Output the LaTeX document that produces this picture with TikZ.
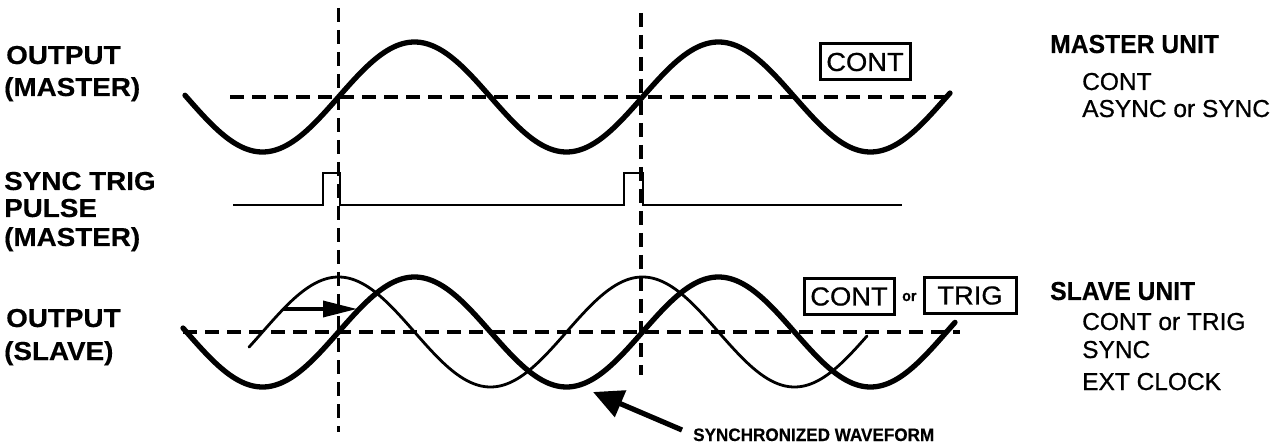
\documentclass[tikz,border=0pt]{standalone}
\usepackage{fontspec}
\setmainfont{Liberation Sans}
\newfontfamily\labfont[FakeStretch=1.07,FakeBold=0.4]{Liberation Sans}
\newfontfamily\titlefont[FakeStretch=0.95,FakeBold=0.4]{Liberation Sans}
\newfontfamily\boxfontfam[FakeStretch=1.05,FakeBold=0.7]{Liberation Sans}
\newfontfamily\subfont[FakeBold=0.7]{Liberation Sans}
\usetikzlibrary{arrows.meta}
\begin{document}
\begin{tikzpicture}[x=1pt,y=-1pt,
  wave/.style={line width=5.3pt, line cap=round},
  thinwave/.style={line width=2.8pt, line cap=round},
  guide/.style={line width=3.5pt, dash pattern=on 14pt off 8pt},
  pulseline/.style={line width=2.8pt},
  lab/.style={anchor=base west, inner sep=0pt, font={\labfont\bfseries\fontsize{26}{30}\selectfont}},
  unittitle/.style={anchor=base west, inner sep=0pt, font={\titlefont\bfseries\fontsize{26}{30}\selectfont}},
  unitsub/.style={anchor=base west, inner sep=0pt, font={\subfont\fontsize{24.5}{28}\selectfont}},
  modebox/.style={draw, line width=3pt, inner sep=0pt, minimum width=90pt, minimum height=36pt, font={\boxfontfam\fontsize{26}{30}\selectfont}},
  orlab/.style={anchor=base west, inner sep=0pt, font={\titlefont\bfseries\fontsize{15}{18}\selectfont}},
  synclab/.style={anchor=base west, inner sep=0pt, font={\titlefont\bfseries\fontsize{18}{21}\selectfont}},
  shiftarrow/.style={line width=3.4pt, -{Triangle[length=34pt,width=16pt]}},
  syncarrow/.style={line width=5.2pt, -{Triangle[length=30pt,width=28pt]}}
]
\useasboundingbox (0,0) rectangle (1281,443);

% left labels
\node[lab] (out1) at (6,64) {OUTPUT};
\node[lab] (mas1) at (4,96) {(MASTER)};
\node[lab] (synctrig) at (4,190) {SYNC TRIG};
\node[lab] (pulse) at (4,217) {PULSE};
\node[lab] (mas2) at (4,246) {(MASTER)};
\node[lab] (out2) at (6,327) {OUTPUT};
\node[lab] (slv) at (4,360) {(SLAVE)};

% right labels
\node[unittitle] (mu) at (1050,53) {MASTER UNIT};
\node[unitsub] (mu1) at (1082,90) {CONT};
\node[unitsub] (mu2) at (1082,117) {ASYNC or SYNC};
\node[unittitle] (su) at (1050,300) {SLAVE UNIT};
\node[unitsub] (su1) at (1082,330) {CONT or TRIG};
\node[unitsub] (su2) at (1082,358) {SYNC};
\node[unitsub] (su3) at (1082,390) {EXT CLOCK};

% mode boxes
\node[modebox] (mcont) at (865,62) {CONT};
\node[modebox] (scont) at (849,296.5) {CONT};
\node[orlab] (sor) at (902,301) {or};
\node[modebox, minimum width=92pt] (strig) at (970,295.5) {TRIG\hspace{8pt}};

% guide lines
\draw[guide] (338.5,8) -- (338.5,432);
\draw[guide] (641,13) -- (641,375);
\draw[guide] (230,97) -- (950,97);
\draw[guide] (183,332) -- (960,332);

% master output
\draw[wave] plot[domain=185:950, samples=300] (\x, {97 - 55*sin((\x-338.5)/304*360)});

% sync trig pulse
\draw[pulseline] (233,205) -- (323,205) -- (323,173) -- (340,173) -- (340,205)
  -- (624,205) -- (624,173) -- (643,173) -- (643,205) -- (902,205);

% slave outputs
\draw[thinwave] plot[domain=249:867, samples=300] (\x, {332 - 55*sin((\x-262.5)/304*360)});
\draw[wave] plot[domain=183:955, samples=300] (\x, {332 - 55*sin((\x-338.5)/304*360)});

% arrows
\coordinate (shtail) at (283,309);
\coordinate (shtip) at (357,309);
\draw[shiftarrow] (shtail) -- (shtip);

\node[synclab] (synctext) at (693,441) {SYNCHRONIZED WAVEFORM};
\coordinate (sytail) at (682,430);
\coordinate (sytip) at (593,392);
\draw[syncarrow] (sytail) -- (sytip);
\end{tikzpicture}
\end{document}
